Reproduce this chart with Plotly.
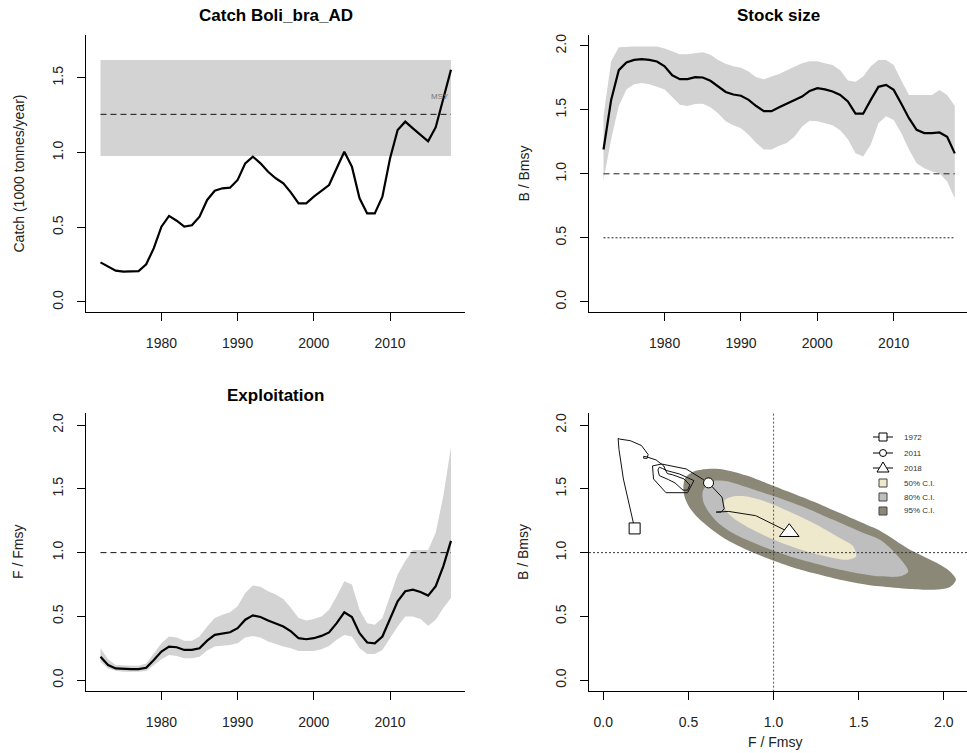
import plotly.graph_objects as go

W, H = 967, 753
FONT = "Liberation Sans, Arial, sans-serif"


def px(x):
    return x / W


def py(y):
    return 1 - y / H


# ---------------- data ----------------
years = list(range(1972, 2019))

catch = [0.265, 0.236, 0.21, 0.203, 0.203, 0.207, 0.252, 0.36, 0.504, 0.576,
         0.544, 0.504, 0.513, 0.571, 0.683, 0.745, 0.761, 0.765, 0.817, 0.928,
         0.973, 0.928, 0.872, 0.828, 0.794, 0.732, 0.66, 0.66, 0.705, 0.743,
         0.783, 0.895, 1.006, 0.906, 0.694, 0.593, 0.593, 0.705, 0.96, 1.151,
         1.207, 1.162, 1.118, 1.075, 1.17, 1.37, 1.555]
msy = 1.256
msy_lcl = 0.977
msy_ucl = 1.62

bbmsy = [1.19, 1.578, 1.81, 1.87, 1.89, 1.896, 1.89, 1.878, 1.84, 1.77,
         1.74, 1.74, 1.755, 1.753, 1.727, 1.68, 1.64, 1.62, 1.61, 1.578,
         1.53, 1.49, 1.49, 1.52, 1.547, 1.573, 1.604, 1.648, 1.67, 1.66,
         1.643, 1.617, 1.565, 1.47, 1.47, 1.578, 1.68, 1.695, 1.656, 1.547,
         1.435, 1.344, 1.318, 1.318, 1.323, 1.29, 1.16]
bbmsy_upper = [1.45, 1.88, 1.99, 1.995, 1.995, 1.995, 1.995, 1.995, 1.98, 1.955,
               1.935, 1.935, 1.94, 1.95, 1.93, 1.89, 1.86, 1.84, 1.83, 1.8,
               1.755, 1.74, 1.76, 1.78, 1.81, 1.84, 1.865, 1.88, 1.88, 1.865,
               1.85, 1.81, 1.73, 1.72, 1.76, 1.84, 1.89, 1.89, 1.85, 1.73,
               1.617, 1.617, 1.617, 1.617, 1.656, 1.617, 1.53]
bbmsy_lower = [0.95, 1.27, 1.53, 1.66, 1.70, 1.71, 1.70, 1.68, 1.66, 1.60,
               1.54, 1.53, 1.545, 1.547, 1.52, 1.474, 1.41, 1.38, 1.357, 1.305,
               1.24, 1.19, 1.19, 1.22, 1.24, 1.29, 1.37, 1.414, 1.41, 1.396,
               1.38, 1.34, 1.27, 1.16, 1.135, 1.23, 1.396, 1.45, 1.42, 1.318,
               1.19, 1.083, 1.044, 1.018, 1.005, 0.94, 0.81]

ffmsy = [0.184, 0.118, 0.092, 0.087, 0.087, 0.087, 0.097, 0.158, 0.224, 0.263,
         0.258, 0.237, 0.237, 0.25, 0.31, 0.355, 0.368, 0.376, 0.408, 0.474,
         0.508, 0.495, 0.468, 0.442, 0.421, 0.382, 0.329, 0.321, 0.329, 0.347,
         0.374, 0.447, 0.532, 0.495, 0.368, 0.295, 0.289, 0.342, 0.487, 0.618,
         0.697, 0.71, 0.692, 0.663, 0.737, 0.895, 1.092]
ffmsy_upper = [0.25, 0.163, 0.118, 0.113, 0.113, 0.113, 0.13, 0.21, 0.289, 0.342,
               0.334, 0.31, 0.31, 0.342, 0.421, 0.487, 0.513, 0.532, 0.579, 0.684,
               0.742, 0.732, 0.697, 0.671, 0.637, 0.566, 0.487, 0.468, 0.479, 0.5,
               0.553, 0.658, 0.776, 0.75, 0.553, 0.447, 0.434, 0.487, 0.658, 0.829,
               0.934, 1.021, 1.021, 1.021, 1.158, 1.447, 1.829]
ffmsy_lower = [0.145, 0.092, 0.074, 0.066, 0.066, 0.066, 0.071, 0.118, 0.163, 0.197,
               0.189, 0.171, 0.171, 0.184, 0.232, 0.263, 0.268, 0.276, 0.289, 0.334,
               0.347, 0.334, 0.303, 0.284, 0.263, 0.25, 0.229, 0.229, 0.229, 0.242,
               0.268, 0.316, 0.355, 0.342, 0.25, 0.205, 0.205, 0.237, 0.329, 0.421,
               0.5, 0.5, 0.479, 0.426, 0.474, 0.566, 0.645]

# Kobe kernel-density contours (F/Fmsy, B/Bmsy)
ci95_f = [0.470, 0.480, 0.528, 0.607, 0.685, 0.763, 0.842, 0.959, 1.077, 1.233, 1.390,
          1.547, 1.625, 1.801, 1.960, 2.036, 2.071, 2.036, 1.960, 1.801, 1.625, 1.547,
          1.390, 1.233, 1.096, 0.959, 0.842, 0.725, 0.627, 0.558, 0.509, 0.480]
ci95_b = [1.505, 1.584, 1.635, 1.656, 1.656, 1.635, 1.604, 1.545, 1.484, 1.401, 1.310,
          1.218, 1.171, 1.023, 0.919, 0.853, 0.788, 0.731, 0.710, 0.715, 0.736, 0.749,
          0.788, 0.840, 0.892, 0.958, 1.023, 1.101, 1.192, 1.271, 1.349, 1.427]
ci80_f = [0.584, 0.626, 0.705, 0.803, 0.920, 1.038, 1.194, 1.351, 1.507, 1.625, 1.723,
          1.791, 1.742, 1.625, 1.547, 1.390, 1.233, 1.096, 0.959, 0.842, 0.744, 0.666,
          0.617, 0.587]
ci80_b = [1.479, 1.557, 1.563, 1.531, 1.479, 1.427, 1.349, 1.257, 1.166, 1.101, 0.984,
          0.853, 0.814, 0.814, 0.827, 0.866, 0.919, 0.970, 1.036, 1.101, 1.166, 1.244,
          1.322, 1.401]
ci50_f = [0.709, 0.715, 0.763, 0.842, 0.940, 1.038, 1.155, 1.272, 1.390, 1.468, 1.484,
          1.429, 1.312, 1.194, 1.077, 0.959, 0.842, 0.763, 0.725]
ci50_b = [1.375, 1.414, 1.440, 1.440, 1.406, 1.354, 1.283, 1.205, 1.114, 1.049, 0.970,
          0.944, 0.970, 1.009, 1.062, 1.127, 1.205, 1.271, 1.322]

legend_labels = ["1972", "2011", "2018", "50% C.I.", "80% C.I.", "95% C.I."]
ci_colors = ["#EEE8CD", "#BEBEBE", "#8B8878"]   # cornsilk2, grey, cornsilk4
int_year = 2011

# ---------------- figure ----------------
fig = go.Figure()
band = "#D3D3D3"
DASH = "6px,4px"
DOT = "2px,2px"


def closed(xs_up, ys_up, ys_lo):
    return list(xs_up) + list(xs_up)[::-1], list(ys_up) + list(ys_lo)[::-1]


# Panel 1: catch
fig.add_trace(go.Scatter(x=[years[0], years[-1], years[-1], years[0]],
                         y=[msy_lcl, msy_lcl, msy_ucl, msy_ucl], fill="toself",
                         fillcolor=band, line=dict(width=0), mode="lines",
                         xaxis="x", yaxis="y", hoverinfo="skip"))
fig.add_trace(go.Scatter(x=[years[0], years[-1]], y=[msy, msy], mode="lines",
                         line=dict(color="#111", width=1, dash=DASH), xaxis="x", yaxis="y"))
fig.add_trace(go.Scatter(x=years, y=catch, mode="lines",
                         line=dict(color="black", width=2.2), xaxis="x", yaxis="y"))

# Panel 2: stock size
bx, by = closed(years, bbmsy_upper, bbmsy_lower)
fig.add_trace(go.Scatter(x=bx, y=by, fill="toself", fillcolor=band, line=dict(width=0),
                         mode="lines", xaxis="x2", yaxis="y2", hoverinfo="skip"))
fig.add_trace(go.Scatter(x=[years[0], years[-1]], y=[1.0, 1.0], mode="lines",
                         line=dict(color="#222", width=1, dash=DASH), xaxis="x2", yaxis="y2"))
fig.add_trace(go.Scatter(x=[years[0], years[-1]], y=[0.5, 0.5], mode="lines",
                         line=dict(color="#222", width=1, dash=DOT), xaxis="x2", yaxis="y2"))
fig.add_trace(go.Scatter(x=years, y=bbmsy, mode="lines",
                         line=dict(color="black", width=2.2), xaxis="x2", yaxis="y2"))

# Panel 3: exploitation
fx, fy = closed(years, ffmsy_upper, ffmsy_lower)
fig.add_trace(go.Scatter(x=fx, y=fy, fill="toself", fillcolor=band, line=dict(width=0),
                         mode="lines", xaxis="x3", yaxis="y3", hoverinfo="skip"))
fig.add_trace(go.Scatter(x=[years[0], years[-1]], y=[1.0, 1.0], mode="lines",
                         line=dict(color="#111", width=1, dash=DASH), xaxis="x3", yaxis="y3"))
fig.add_trace(go.Scatter(x=years, y=ffmsy, mode="lines",
                         line=dict(color="black", width=2.2), xaxis="x3", yaxis="y3"))

# Panel 4: Kobe
for cf, cb, col in [(ci95_f, ci95_b, ci_colors[2]), (ci80_f, ci80_b, ci_colors[1]),
                    (ci50_f, ci50_b, ci_colors[0])]:
    fig.add_trace(go.Scatter(x=cf + cf[:1], y=cb + cb[:1], fill="toself", fillcolor=col,
                             line=dict(width=0, shape="spline", smoothing=0.8), mode="lines",
                             xaxis="x4", yaxis="y4", hoverinfo="skip"))
fig.add_trace(go.Scatter(x=[-1, 3], y=[1.0, 1.0], mode="lines",
                         line=dict(color="#333", width=1, dash=DOT), xaxis="x4", yaxis="y4"))
fig.add_trace(go.Scatter(x=[1.0, 1.0], y=[-1, 3], mode="lines",
                         line=dict(color="#555", width=1, dash=DOT), xaxis="x4", yaxis="y4"))
fig.add_trace(go.Scatter(x=ffmsy, y=bbmsy, mode="lines",
                         line=dict(color="#111", width=1), xaxis="x4", yaxis="y4"))
i_int = years.index(int_year)
fig.add_trace(go.Scatter(x=[ffmsy[0]], y=[bbmsy[0]], mode="markers",
                         marker=dict(symbol="square", size=11, color="white",
                                     line=dict(color="black", width=1)),
                         xaxis="x4", yaxis="y4"))
fig.add_trace(go.Scatter(x=[ffmsy[i_int]], y=[bbmsy[i_int]], mode="markers",
                         marker=dict(symbol="circle", size=10, color="white",
                                     line=dict(color="black", width=1)),
                         xaxis="x4", yaxis="y4"))
fig.add_trace(go.Scatter(x=[ffmsy[-1]], y=[bbmsy[-1]], mode="markers",
                         marker=dict(symbol="triangle-up", size=17, color="white",
                                     line=dict(color="black", width=1)),
                         xaxis="x4", yaxis="y4"))

# ---------------- axes ----------------
tickfont = dict(family=FONT, size=14, color="#222")
common = dict(showline=True, linecolor="black", linewidth=1, ticks="outside", ticklen=8,
              tickcolor="black", tickwidth=1, showgrid=False, zeroline=False,
              tickfont=tickfont, fixedrange=True, ticklabelstandoff=10)
yr_ticks = [1980, 1990, 2000, 2010]
top_dom = [py(312), py(35)]
bot_dom = [py(691), py(413)]
left_dom = [px(86), px(465)]
right_dom = [px(589), 1.0]


def yax(vals, rng, dom, anchor):
    return dict(common, domain=dom, range=rng, tickvals=vals,
                ticktext=[f"{v:.1f}" for v in vals], tickangle=-90, anchor=anchor,
                ticklabelstandoff=8)


fig.update_layout(
    xaxis=dict(common, domain=left_dom, range=[1970.1, 2019.84], tickvals=yr_ticks, anchor="y"),
    yaxis=yax([0, 0.5, 1.0, 1.5], [-0.067, 1.787], top_dom, "x"),
    xaxis2=dict(common, domain=right_dom, range=[1970.1, 2019.6], tickvals=yr_ticks, anchor="y2"),
    yaxis2=yax([0, 0.5, 1.0, 1.5, 2.0], [-0.08, 2.085], top_dom, "x2"),
    xaxis3=dict(common, domain=left_dom, range=[1970.1, 2019.84], tickvals=yr_ticks, anchor="y3"),
    yaxis3=yax([0, 0.5, 1.0, 1.5, 2.0], [-0.085, 2.095], bot_dom, "x3"),
    xaxis4=dict(common, domain=right_dom, range=[-0.084, 2.136],
                tickvals=[0, 0.5, 1.0, 1.5, 2.0], ticktext=["0.0", "0.5", "1.0", "1.5", "2.0"],
                anchor="y4"),
    yaxis4=yax([0, 0.5, 1.0, 1.5, 2.0], [-0.085, 2.095], bot_dom, "x4"),
    width=W, height=H, margin=dict(l=0, r=0, t=0, b=0),
    paper_bgcolor="white", plot_bgcolor="white", showlegend=False,
    font=dict(family=FONT, color="#222"),
)

ann = []


def text(x, y, s, size=14, bold=False, angle=0, color="#222", xanchor="center"):
    ann.append(dict(x=px(x), y=py(y), xref="paper", yref="paper", text=f"<b>{s}</b>" if bold else s,
                    showarrow=False, textangle=angle, xanchor=xanchor, yanchor="middle",
                    font=dict(family=FONT, size=size, color=color)))


# titles
text(275.5, 16, "Catch Boli_bra_AD", 17, True, color="black")
text(778, 16, "Stock size", 17, True, color="black")
text(275.5, 395, "Exploitation", 17, True, color="black")
# axis titles
text(18, 173.5, "Catch (1000 tonnes/year)", 14, angle=-90)
text(523, 173.5, "B / Bmsy", 14, angle=-90)
text(18, 552, "F / Fmsy", 14, angle=-90)
text(523, 552, "B / Bmsy", 14, angle=-90)
text(775, 742, "F / Fmsy", 14)
# MSY label
ann.append(dict(x=years[-1] - 1.5, y=msy * 1.095, xref="x", yref="y", text="MSY", showarrow=False,
                font=dict(family=FONT, size=8, color="#777")))

# legend for Kobe plot
rows = [437, 453, 468, 483, 497, 511]
lx = 883
shapes = []
for i, lab in enumerate(legend_labels):
    yy = rows[i]
    text(902, yy, lab, 8, color="#333", xanchor="left")
    if i < 3:
        shapes.append(dict(type="line", xref="paper", yref="paper", x0=px(873), x1=px(893),
                           y0=py(yy), y1=py(yy), line=dict(color="black", width=1)))
    if i == 0:
        shapes.append(dict(type="rect", xref="paper", yref="paper", x0=px(lx - 4), x1=px(lx + 4),
                           y0=py(yy + 4), y1=py(yy - 4), fillcolor="white",
                           line=dict(color="black", width=1)))
    elif i == 1:
        shapes.append(dict(type="circle", xref="paper", yref="paper", x0=px(lx - 3.5), x1=px(lx + 3.5),
                           y0=py(yy + 3.5), y1=py(yy - 3.5), fillcolor="white",
                           line=dict(color="black", width=1)))
    elif i == 2:
        path = (f"M {px(lx - 6)},{py(yy + 4)} L {px(lx + 6)},{py(yy + 4)} "
                f"L {px(lx)},{py(yy - 6)} Z")
        shapes.append(dict(type="path", xref="paper", yref="paper", path=path, fillcolor="white",
                           line=dict(color="black", width=1)))
    else:
        shapes.append(dict(type="rect", xref="paper", yref="paper", x0=px(lx - 4), x1=px(lx + 4),
                           y0=py(yy + 4), y1=py(yy - 4), fillcolor=ci_colors[i - 3],
                           line=dict(color="#444", width=1)))

fig.update_layout(annotations=ann, shapes=shapes)
fig.write_html("out.html")
